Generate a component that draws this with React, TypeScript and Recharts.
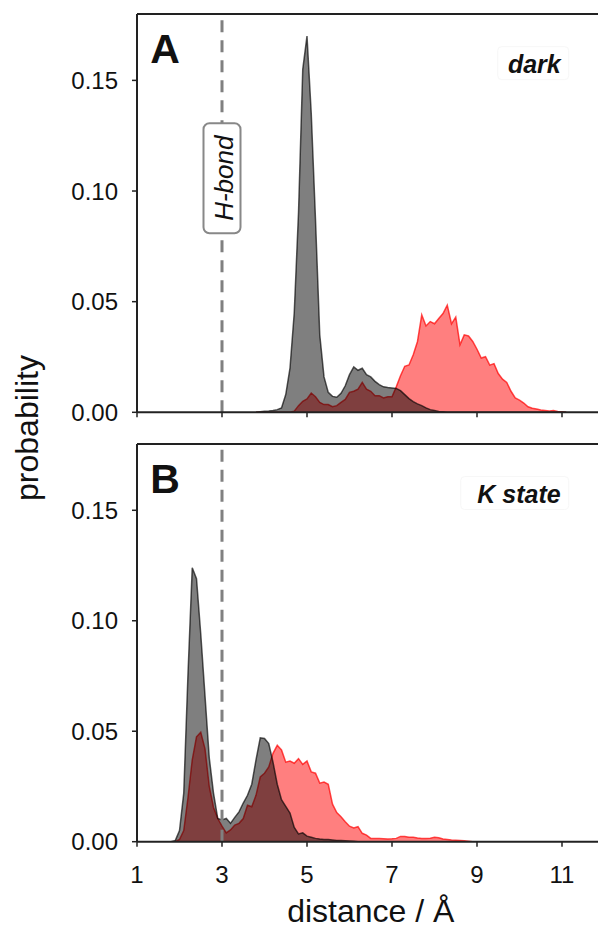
import { Area, AreaChart, Label, ReferenceDot, ReferenceLine, XAxis, YAxis } from "recharts";

const FONT = '"Liberation Sans", Arial, Helvetica, sans-serif';

// histogram bins are 0.1 Å wide; each list starts at its panel's first bin
const BIN = 0.1;

// panel A, dark state (first bin 3.8 Å)
const darkStart = 3.8;
const darkGray = [
  0, 0.0003, 0.0005, 0.0006, 0.0008, 0.0012, 0.002, 0.008, 0.02, 0.045,
  0.09, 0.155, 0.17, 0.135, 0.087, 0.035, 0.016, 0.009, 0.0072, 0.0068,
  0.0086, 0.012, 0.017, 0.0205, 0.019, 0.0199, 0.017, 0.016, 0.014, 0.0125,
  0.0115, 0.0112, 0.011, 0.0108, 0.0098, 0.008, 0.0062, 0.0048, 0.0038, 0.003,
  0.002, 0.0012, 0.0008, 0.0004, 0.0002, 0,
];
const darkRed = [
  0, 0, 0, 0, 0, 0, 0, 0, 0, 0.0005,
  0.003, 0.005, 0.006, 0.0087, 0.007, 0.0045, 0.0035, 0.0035, 0.0025, 0.003,
  0.0045, 0.0058, 0.009, 0.0095, 0.0105, 0.0135, 0.0105, 0.0095, 0.0075, 0.0075,
  0.0065, 0.007, 0.007, 0.0115, 0.0165, 0.0208, 0.0214, 0.026, 0.032, 0.044,
  0.039, 0.041, 0.04, 0.0424, 0.0446, 0.0484, 0.04, 0.043, 0.0305, 0.035,
  0.0345, 0.032, 0.0285, 0.0245, 0.0251, 0.0213, 0.022, 0.0175, 0.015, 0.0135,
  0.0095, 0.0065, 0.0055, 0.0042, 0.0025, 0.0018, 0.0015, 0.001, 0.0008, 0.0006,
  0.0008, 0.0004, 0.0002, 0,
];

// panel B, K state (first bin 1.7 Å)
const kStart = 1.7;
const kGray = [
  0, 0, 0.0005, 0.005, 0.022, 0.076, 0.124, 0.119, 0.094, 0.066,
  0.038, 0.022, 0.0105, 0.0098, 0.0105, 0.0083, 0.011, 0.0135, 0.0175, 0.021,
  0.026, 0.037, 0.047, 0.0467, 0.0444, 0.036, 0.026, 0.019, 0.016, 0.013,
  0.0065, 0.0035, 0.004, 0.0025, 0.002, 0.0015, 0.0012, 0.001, 0.001, 0.0008,
  0.0006, 0.0005, 0.0004, 0.0003, 0.0002, 0,
];
const kRed = [
  0, 0, 0, 0.001, 0.005, 0.02, 0.037, 0.0475, 0.0495, 0.042,
  0.025, 0.0155, 0.0105, 0.007, 0.004, 0.0053, 0.0075, 0.0083, 0.0105, 0.0165,
  0.0158, 0.021, 0.0293, 0.031, 0.0338, 0.04, 0.0436, 0.0415, 0.036, 0.0365,
  0.0355, 0.0376, 0.035, 0.0365, 0.0316, 0.031, 0.0265, 0.027, 0.026, 0.017,
  0.0132, 0.0113, 0.009, 0.007, 0.0062, 0.0068, 0.0038, 0.003, 0.0015, 0.0015,
  0.0014, 0.0013, 0.0012, 0.0013, 0.0015, 0.0024, 0.0024, 0.002, 0.002, 0.0017,
  0.0015, 0.0014, 0.0016, 0.002, 0.0018, 0.0012, 0.001, 0.0008, 0.0007, 0.0006,
  0.0004, 0.0002, 0,
];

const xTicks = [1, 3, 5, 7, 9, 11];
const yTicks = [0, 0.05, 0.1, 0.15];
const hbondCutoff = 3;

function toRows(start: number, gray: number[], red: number[]) {
  const n = Math.max(gray.length, red.length);
  return Array.from({ length: n }, (_, i) => ({
    distance: Math.round((start + i * BIN) * 10) / 10,
    gray: gray[i] ?? 0,
    red: red[i] ?? 0,
  }));
}

const darkRows = toRows(darkStart, darkGray, darkRed);
const kRows = toRows(kStart, kGray, kRed);

function HBondTag({ cx, cy }: any) {
  return (
    <g>
      <rect x={cx - 18.5} y={cy - 55} width={37} height={110} rx={6} fill="#fff" stroke="#888" strokeWidth={2} />
      <text
        x={cx + 11}
        y={cy}
        transform={`rotate(-90 ${cx + 11} ${cy})`}
        textAnchor="middle"
        fontStyle="italic"
        fontSize={26}
        fontFamily={FONT}
        fill="#111"
      >
        H-bond
      </text>
    </g>
  );
}

function panelLetter(letter: string) {
  return ({ cx, cy }: any) => (
    <text x={cx} y={cy} fontSize={41} fontWeight="bold" fontFamily={FONT} fill="#111">
      {letter}
    </text>
  );
}

function stateTag(label: string, boxWidth: number) {
  return ({ cx, cy }: any) => (
    <g>
      <rect x={cx - boxWidth + 8} y={cy - 26} width={boxWidth} height={33} rx={4} fill="#fff" stroke="#f7f7f7" />
      <text x={cx} y={cy} textAnchor="end" fontSize={25} fontWeight="bold" fontStyle="italic" fontFamily={FONT} fill="#111">
        {label}
      </text>
    </g>
  );
}

type PanelProps = {
  rows: { distance: number; gray: number; red: number }[];
  letter: string;
  state: string;
  stateBox: number;
  height: number;
  bottomAxis: boolean;
  showTag: boolean;
};

function Panel({ rows, letter, state, stateBox, height, bottomAxis, showTag }: PanelProps) {
  return (
    <AreaChart width={620} height={height} data={rows} margin={{ top: 14, right: 15.5, bottom: 0, left: 37 }}>
      <XAxis
        type="number"
        dataKey="distance"
        domain={[1, 12]}
        ticks={xTicks}
        allowDataOverflow
        height={bottomAxis ? 88.3 : 17.7}
        tickSize={5}
        tickMargin={19}
        axisLine={{ stroke: "#222", strokeWidth: 2 }}
        tickLine={{ stroke: "#222", strokeWidth: 1.5 }}
        tick={{ fill: "#111", fontSize: 24, fontFamily: FONT }}
        tickFormatter={bottomAxis ? (v: number) => String(v) : () => ""}
      >
        {bottomAxis && (
          <Label
            value="distance / Å"
            position="insideBottom"
            offset={8}
            style={{ fontSize: 32, fontFamily: FONT, fill: "#111" }}
          />
        )}
      </XAxis>
      <YAxis
        width={100}
        domain={[0, 0.18]}
        ticks={yTicks}
        allowDataOverflow
        tickSize={5}
        tickMargin={14}
        axisLine={{ stroke: "#222", strokeWidth: 2 }}
        tickLine={{ stroke: "#222", strokeWidth: 1.5 }}
        tick={{ fill: "#111", fontSize: 24, fontFamily: FONT }}
        tickFormatter={(v: number) => v.toFixed(2)}
      />
      <ReferenceLine y={0.18} stroke="#222" strokeWidth={2} />
      <ReferenceLine x={hbondCutoff} stroke="#808080" strokeWidth={3} strokeDasharray="12 8" />
      <Area
        type="linear"
        dataKey="red"
        fill="#ff0000"
        fillOpacity={0.5}
        stroke="#ff0000"
        strokeOpacity={0.7}
        strokeWidth={1.5}
        dot={false}
        activeDot={false}
        isAnimationActive={false}
      />
      <Area
        type="linear"
        dataKey="gray"
        fill="#000"
        fillOpacity={0.5}
        stroke="#000"
        strokeOpacity={0.65}
        strokeWidth={1.5}
        dot={false}
        activeDot={false}
        isAnimationActive={false}
      />
      {showTag && <ReferenceDot x={hbondCutoff} y={0.1058} shape={HBondTag} />}
      <ReferenceDot x={1.31} y={0.158} shape={panelLetter(letter)} />
      <ReferenceDot x={10.97} y={0.1535} shape={stateTag(state, stateBox)} />
    </AreaChart>
  );
}

export default function App() {
  return (
    <div style={{ position: "fixed", left: 0, top: 0, width: 598, height: 930, overflow: "hidden", background: "#fff" }}>
      <div style={{ position: "absolute", left: 0, top: 0 }}>
        <Panel rows={darkRows} letter="A" state="dark" stateBox={71} height={430} bottomAxis={false} showTag />
      </div>
      <div style={{ position: "absolute", left: 0, top: 430 }}>
        <Panel rows={kRows} letter="B" state="K state" stateBox={108} height={500} bottomAxis showTag={false} />
      </div>
      <svg style={{ position: "absolute", left: 0, top: 0 }} width={60} height={930}>
        <text
          x={38}
          y={428}
          transform="rotate(-90 38 428)"
          textAnchor="middle"
          fontSize={32}
          fontFamily={FONT}
          fill="#111"
        >
          probability
        </text>
      </svg>
    </div>
  );
}
